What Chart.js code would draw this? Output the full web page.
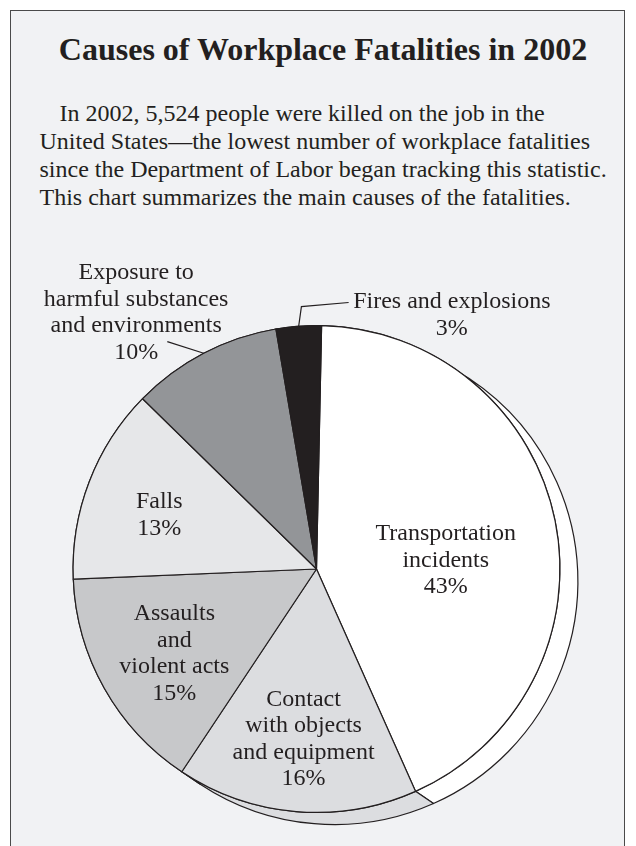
<!DOCTYPE html>
<html>
<head>
<meta charset="utf-8">
<title>Causes of Workplace Fatalities in 2002</title>
<script src="https://cdn.jsdelivr.net/npm/chart.js@4/dist/chart.umd.min.js"></script>
<style>
  html, body { margin: 0; padding: 0; background: #ffffff; }
  body { width: 636px; height: 846px; position: relative; overflow: hidden; }
  #frame {
    position: absolute; left: 9.5px; top: 9.5px; width: 615px; height: 860px;
    box-sizing: border-box; border: 1.4px solid #4a4a4a; background: #f1f2f4;
  }
  #title {
    position: absolute; left: 0; top: 33px; width: 646px; text-align: center;
    font: bold 32px/32px "Liberation Serif", "Times New Roman", serif; color: #231f20;
  }
  #intro {
    position: absolute; left: 39.5px; top: 98.5px; width: 590px;
    font: 24px/28.3px "Liberation Serif", "Times New Roman", serif; color: #231f20;
    white-space: nowrap;
  }
  #pie { position: absolute; left: 0; top: 220px; }
</style>
</head>
<body>
<div id="frame"></div>
<div id="title">Causes of Workplace Fatalities in 2002</div>
<div id="intro">
  <span style="padding-left:20px">In 2002, 5,524 people were killed on the job in the</span><br>
  United States—the lowest number of workplace fatalities<br>
  since the Department of Labor began tracking this statistic.<br>
  This chart summarizes the main causes of the fatalities.
</div>
<canvas id="pie" width="636" height="626"></canvas>

<script>
// Causes, clockwise from the top of the pie
const causes = [
    'Transportation incidents',
    'Contact with objects and equipment',
    'Assaults and violent acts',
    'Falls',
    'Exposure to harmful substances and environments',
    'Fires and explosions'
];

// Share of fatalities, percent
const shares = [43, 16, 15, 13, 10, 3];

// How each label is broken into lines (the percent goes on the last line)
const labelLines = [
    ['Transportation', 'incidents'],
    ['Contact', 'with objects', 'and equipment'],
    ['Assaults', 'and', 'violent acts'],
    ['Falls'],
    ['Exposure to', 'harmful substances', 'and environments'],
    ['Fires and explosions']
];

const sliceColors = ['#ffffff', '#dcdde0', '#c7c8ca', '#e6e7e9', '#939598', '#231f20'];

// Label block centres, in pie radii from the centre
const labelAnchors = [
    [0.531, -0.035],
    [-0.053, 0.700],
    [-0.584, 0.348],
    [-0.646, -0.222],
    [-0.741, -1.053],
    [0.556, -1.043]
];

// Leader lines for the labels outside the pie (points in radii, last one meets the rim)
const leaderBends = [null, null, null, null, [[-0.613, -0.934]], [[0.132, -1.095], [-0.062, -1.078]]];

const inkColor = '#231f20';
const labelFont = '24px "Liberation Serif", "Times New Roman", serif';
const lineGap = 26.5;

// Depth of the pie's raised edge, in radii
const depthX = 0.074;
const depthY = 0.05;

// Draws the edge of the pie that shows below and to the right
const pieEdge = {
    id: 'pieEdge',
    beforeDatasetsDraw(chart) {
        const ctx = chart.ctx;
        const arcs = chart.getDatasetMeta(0).data;
        ctx.save();
        ctx.lineWidth = 1.2;
        ctx.strokeStyle = inkColor;
        ctx.lineJoin = 'round';
        arcs.forEach((arc, i) => {
            const { x, y, startAngle, endAngle, outerRadius } =
                arc.getProps(['x', 'y', 'startAngle', 'endAngle', 'outerRadius'], true);
            const dx = outerRadius * depthX;
            const dy = outerRadius * depthY;
            ctx.beginPath();
            ctx.arc(x, y, outerRadius, startAngle, endAngle);
            ctx.lineTo(x + dx + outerRadius * Math.cos(endAngle), y + dy + outerRadius * Math.sin(endAngle));
            ctx.arc(x + dx, y + dy, outerRadius, endAngle, startAngle, true);
            ctx.closePath();
            ctx.fillStyle = sliceColors[i];
            ctx.fill();
            ctx.stroke();
        });
        ctx.restore();
    }
};

// Writes the labels and their leader lines
const pieLabels = {
    id: 'pieLabels',
    afterDatasetsDraw(chart) {
        const ctx = chart.ctx;
        const arcs = chart.getDatasetMeta(0).data;
        ctx.save();
        arcs.forEach((arc, i) => {
            const { x, y, startAngle, endAngle, outerRadius } =
                arc.getProps(['x', 'y', 'startAngle', 'endAngle', 'outerRadius'], true);
            const r = outerRadius;

            if (leaderBends[i]) {
                const mid = (startAngle + endAngle) / 2;
                ctx.beginPath();
                leaderBends[i].forEach((p, k) => {
                    if (k === 0) ctx.moveTo(x + p[0] * r, y + p[1] * r);
                    else ctx.lineTo(x + p[0] * r, y + p[1] * r);
                });
                ctx.lineTo(x + Math.cos(mid) * r, y + Math.sin(mid) * r);
                ctx.lineWidth = 1.2;
                ctx.strokeStyle = inkColor;
                ctx.stroke();
            }

            const lines = labelLines[i].concat([shares[i] + '%']);
            const cx = x + labelAnchors[i][0] * r;
            const cy = y + labelAnchors[i][1] * r;
            const top = cy - (lines.length - 1) * lineGap / 2;
            ctx.font = labelFont;
            ctx.fillStyle = inkColor;
            ctx.textAlign = 'center';
            ctx.textBaseline = 'middle';
            lines.forEach((line, k) => ctx.fillText(line, cx, top + k * lineGap));
        });
        ctx.restore();
    }
};

const ctx = document.getElementById('pie').getContext('2d');
new Chart(ctx, {
    type: 'pie',
    data: {
        labels: causes,
        datasets: [{
            data: shares,
            backgroundColor: sliceColors,
            borderColor: inkColor,
            borderWidth: 1.2,
            hoverOffset: 0
        }]
    },
    options: {
        responsive: false,
        animation: false,
        rotation: 1.2,
        layout: { padding: { left: 72.5, right: 75.5, top: 105, bottom: 33 } },
        plugins: {
            legend: { display: false },
            tooltip: { enabled: false }
        },
        events: []
    },
    plugins: [pieEdge, pieLabels]
});
</script>
</body>
</html>
